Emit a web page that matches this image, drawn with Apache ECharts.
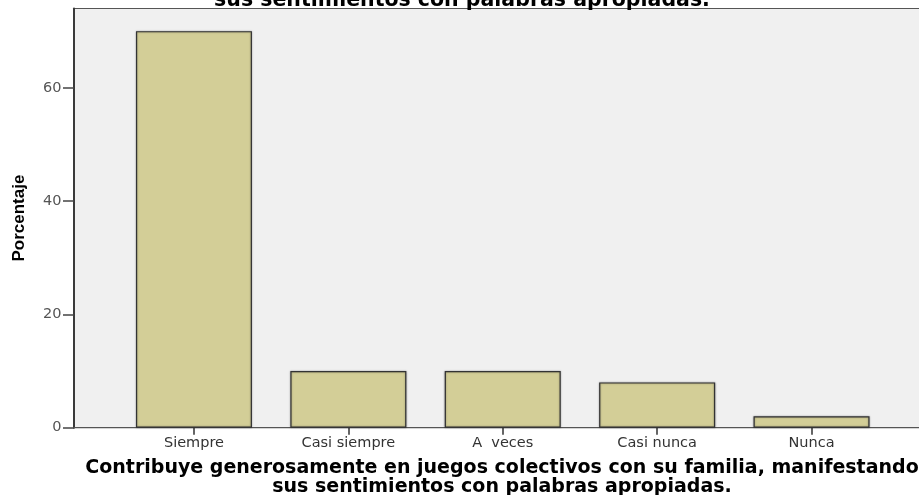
<!DOCTYPE html>
<html>
<head>
<meta charset="utf-8">
<script src="https://cdn.jsdelivr.net/npm/echarts@6/dist/echarts.min.js"></script>
<style>
  html, body { margin: 0; padding: 0; background: #fff; }
  #barChart { width: 919px; height: 495px; }
</style>
</head>
<body>
<div id="barChart"></div>
<script>
const categories = ["Siempre", "Casi siempre", "A  veces", "Casi nunca", "Nunca"];
const percentages = [70, 10, 10, 8, 2];
const yTicks = [0, 20, 40, 60];
const titleText = "Contribuye generosamente en juegos colectivos con su familia, manifestando\nsus sentimientos con palabras apropiadas.";

const chart = echarts.init(document.getElementById("barChart"), null, { renderer: "canvas" });

// bars sit on a value axis so the side padding can match the picture
const barData = categories.map((c, i) => [i, percentages[i]]);
const catIdx = categories.map((c, i) => i);

const option = {
  animation: false,
  graphic: [
    {
      // chart title, mostly cut off by the top edge
      type: "text",
      x: 462,
      y: 13,
      style: {
        text: titleText,
        fill: "#000",
        font: "bold 20.5px 'DejaVu Sans'",
        textAlign: "center",
        textVerticalAlign: "bottom",
        lineHeight: 24,
      },
    },
  ],
  grid: {
    left: 74,
    top: 8.5,
    right: -2,
    bottom: 67.3,
    outerBoundsMode: "none",
    show: true,
    backgroundColor: "#f0f0f0",
    borderColor: "#555",
    borderWidth: 1.2,
  },
  xAxis: {
    type: "value",
    min: -0.777,
    max: 4.709,
    splitLine: { show: false },
    axisLine: { show: true, onZero: false, lineStyle: { color: "#555", width: 1 } },
    axisTick: {
      show: true,
      customValues: catIdx,
      length: 7,
      lineStyle: { color: "#333", width: 1.5 },
    },
    axisLabel: {
      customValues: catIdx,
      margin: 8.5,
      color: "#333",
      fontFamily: "DejaVu Sans",
      fontSize: 14.5,
      formatter: (v) => categories[Math.round(v)] || "",
    },
    name: titleText,
    nameLocation: "middle",
    nameGap: 31,
    nameTextStyle: {
      fontFamily: "DejaVu Sans",
      fontWeight: "bold",
      fontSize: 19,
      lineHeight: 19,
      color: "#000",
      padding: [0, 0, 0, 9],
    },
  },
  yAxis: {
    type: "value",
    min: 0,
    max: 74,
    splitLine: { show: false },
    axisLine: { show: true, onZero: false, lineStyle: { color: "#3a3a3a", width: 2 } },
    axisTick: {
      show: true,
      customValues: yTicks,
      length: 11,
      lineStyle: { color: "#444", width: 1.5 },
    },
    axisLabel: {
      customValues: yTicks,
      margin: 12.5,
      color: "#555",
      fontFamily: "DejaVu Sans",
      fontSize: 14.5,
    },
    name: "Porcentaje",
    nameLocation: "middle",
    nameGap: 46,
    nameTextStyle: {
      fontFamily: "Liberation Sans",
      fontWeight: "bold",
      fontSize: 17,
      color: "#000",
    },
  },
  series: [
    {
      type: "bar",
      data: barData,
      barWidth: 116,
      itemStyle: {
        color: "#d3ce97",
        borderColor: "#333",
        borderWidth: 1.2,
        shadowColor: "rgba(0,0,0,0.35)",
        shadowBlur: 2,
      },
    },
  ],
};

option && chart.setOption(option);
</script>
</body>
</html>
